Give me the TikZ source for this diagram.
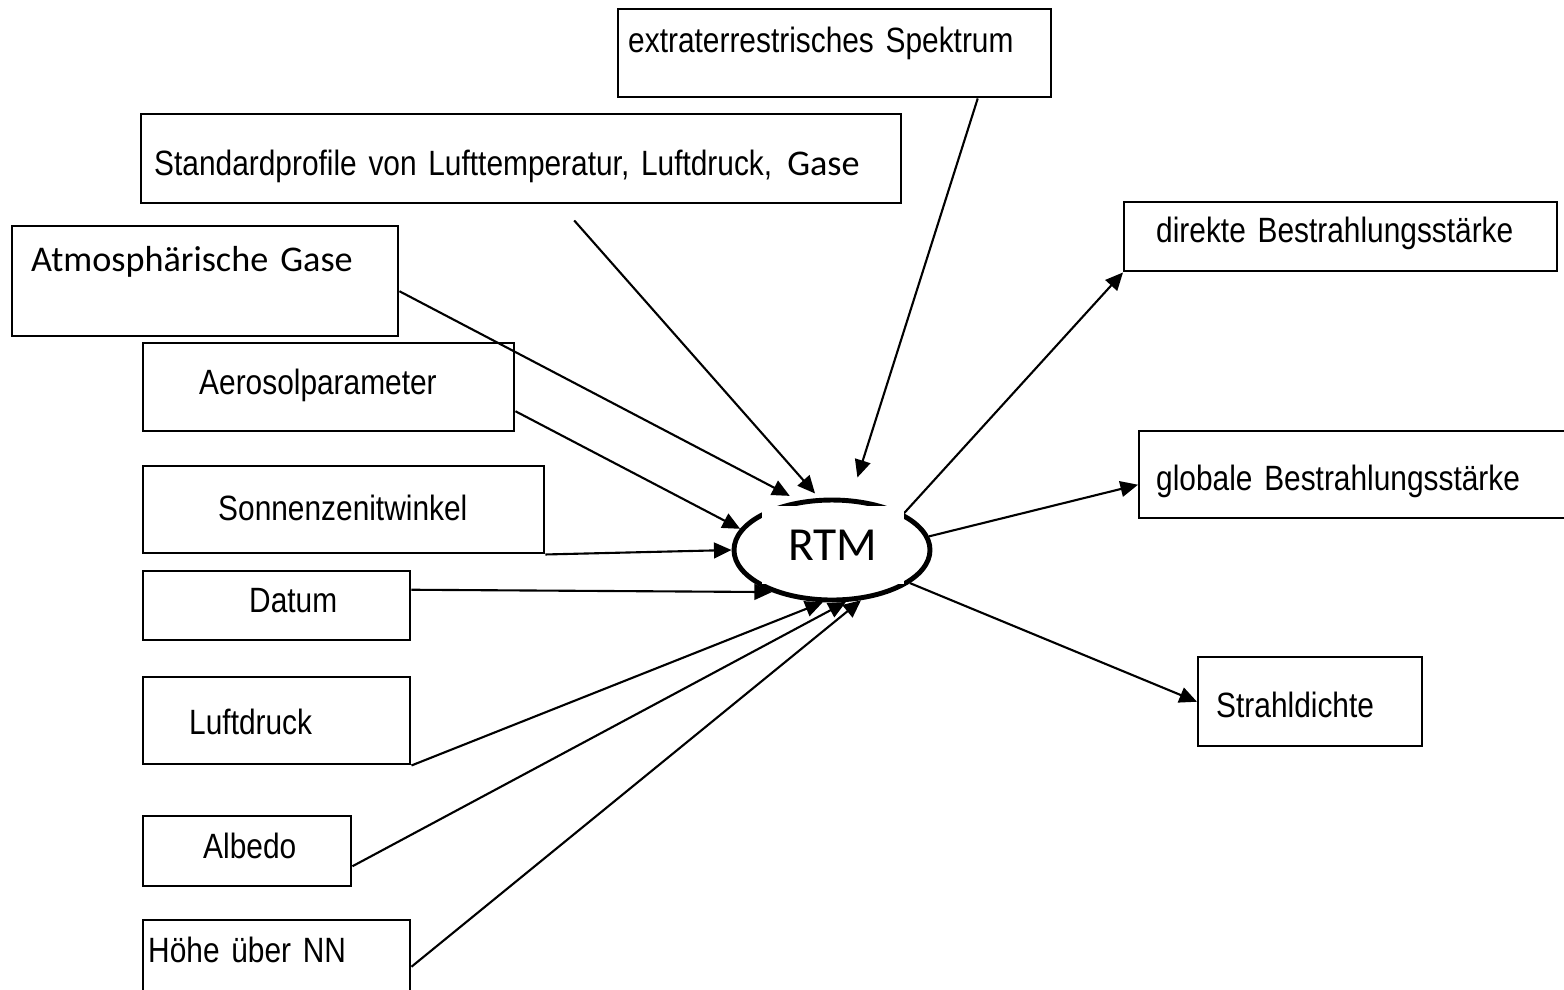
\documentclass[tikz,border=0pt]{standalone}
\usepackage{fontspec}
\usetikzlibrary{arrows.meta,shapes.geometric}
\newfontfamily\arialfont{Liberation Sans}[FakeStretch=0.85]
\newfontfamily\calibrifont{Carlito}
\tikzset{
  box/.style={draw, line width=0.7pt, anchor=north west, inner sep=0pt, align=left,
    font=\arialfont\fontsize{10}{12}\selectfont},
  arr/.style={line width=0.6pt, -{Triangle[length=5pt,width=4.5pt]}}
}

\begin{document}
\begin{tikzpicture}
\useasboundingbox (0,0) rectangle (15.64,-9.89);

% inputs
\node[box, text width=4.33cm, text height=0.43cm, text depth=0.45cm] (spek) at (6.17,-0.08) {\hspace*{0.10cm}extraterrestrisches Spektrum};
\node[box, text width=7.60cm, text height=0.61cm, text depth=0.28cm] (std) at (1.40,-1.13) {\hspace*{0.13cm}Standardprofile von Lufttemperatur, Luftdruck,\hspace{0.15cm}{\calibrifont\fontsize{10.3}{12}\selectfont Gase}};
\node[box, text width=3.86cm, text height=0.45cm, text depth=0.65cm, font=\calibrifont\fontsize{10.3}{12}\selectfont] (atmo) at (0.11,-2.25) {\hspace*{0.19cm}Atmosphärische Gase};
\node[box, text width=3.71cm, text height=0.51cm, text depth=0.37cm] (aero) at (1.42,-3.42) {\hspace*{0.56cm}Aerosolparameter};
\node[box, text width=4.01cm, text height=0.54cm, text depth=0.33cm] (sonne) at (1.42,-4.65) {\hspace*{0.75cm}Sonnenzenitwinkel};
\node[box, text width=2.67cm, text height=0.41cm, text depth=0.28cm] (datum) at (1.42,-5.70) {\hspace*{1.06cm}Datum};
\node[box, text width=2.67cm, text height=0.57cm, text depth=0.30cm] (luft) at (1.42,-6.76) {\hspace*{0.46cm}Luftdruck};
\node[box, text width=2.08cm, text height=0.42cm, text depth=0.28cm] (albedo) at (1.42,-8.15) {\hspace*{0.60cm}Albedo};
\node[box, text width=2.67cm, text height=0.42cm, text depth=0.31cm] (hoehe) at (1.42,-9.19) {\hspace*{0.05cm}Höhe über NN};

% outputs
\node[box, text width=4.33cm, text height=0.40cm, text depth=0.29cm] (direkt) at (11.23,-2.01) {\hspace*{0.32cm}direkte Bestrahlungsstärke};
\node[box, text width=4.28cm, text height=0.59cm, text depth=0.28cm] (global) at (11.38,-4.30) {\hspace*{0.17cm}globale Bestrahlungsstärke};
\node[box, text width=2.24cm, text height=0.60cm, text depth=0.29cm] (strahl) at (11.97,-6.56) {\hspace*{0.18cm}Strahldichte};

\node[ellipse, draw, line width=1.4pt, minimum width=1.96cm, minimum height=1.0cm, inner sep=0pt] (rtm) at (8.32,-5.50) {};

\draw[arr, shorten >=0.22cm] ([xshift=1.43cm]spek.south) -- (rtm.70);
\draw[arr, shorten >=0.06cm] ([xshift=0.53cm,yshift=-0.16cm]std.south) -- (rtm.104);
\draw[arr, shorten >=0.10cm] ([yshift=-0.10cm]atmo.east) -- (rtm.124);
\draw[arr] ([yshift=-0.24cm]aero.east) -- (rtm.167);
\draw[arr] (sonne.south east) -- (rtm.west);
\draw[arr] ([yshift=0.16cm]datum.east) -- (rtm.215);
\draw[arr] (luft.south east) -- (rtm.260);
\draw[arr] ([yshift=-0.15cm]albedo.east) -- (rtm.285);
\draw[arr] ([yshift=-0.10cm]hoehe.east) -- (rtm.300);

\draw[arr] (rtm.27) -- (direkt.south west);
\draw[arr] (rtm.8) -- ([yshift=-0.10cm]global.west);
\draw[arr] (rtm.337) -- (strahl.west);

\node[fill=white, minimum width=1.42cm, minimum height=0.78cm, font=\calibrifont\fontsize{13.5}{16}\selectfont] (rtmtext) at (8.33,-5.45) {RTM};
\end{tikzpicture}
\end{document}
